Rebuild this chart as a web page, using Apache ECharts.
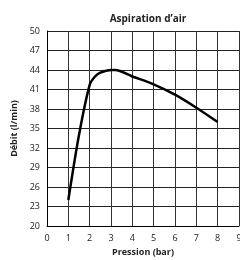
<!DOCTYPE html>
<html>
<head>
<meta charset="utf-8">
<script src="https://cdn.jsdelivr.net/npm/echarts@6/dist/echarts.min.js"></script>
<style>
  html, body { margin: 0; padding: 0; background: #fff; }
  #main { width: 240px; height: 260px; }
</style>
</head>
<body>
<div id="main"></div>
<script>
var pression = [1, 1.5, 2, 2.25, 2.5, 3, 3.2, 4, 5, 6, 7, 8];
var debit = [24, 34, 41.7, 43, 43.6, 44, 44, 43, 41.8, 40.2, 38.2, 36];
var xTicks = [0, 1, 2, 3, 4, 5, 6, 7, 8, 9];
var yTicks = [20, 23, 26, 29, 32, 35, 38, 41, 44, 47, 50];

var font = 'Open Sans';
var points = pression.map(function (p, i) { return [p, debit[i]]; });

var myChart = echarts.init(document.getElementById('main'));
myChart.setOption({
  animation: false,
  title: {
    text: 'Aspiration d\u2019air',
    left: 143, top: 9, textAlign: 'center',
    textStyle: { fontFamily: font, fontSize: 10, fontWeight: 'bold', color: '#222' }
  },
  grid: { left: 47, right: 1, top: 31, bottom: 34, outerBoundsMode: 'none' },
  xAxis: {
    type: 'value', min: 0, max: 9, interval: 1,
    name: 'Pression (bar)', nameLocation: 'middle', nameGap: 19,
    nameTextStyle: { fontFamily: font, fontSize: 9, fontWeight: 'bold', color: '#222' },
    axisLine: { show: true, lineStyle: { color: '#000', width: 1 } },
    axisTick: { show: false },
    axisLabel: { fontFamily: font, fontSize: 9, color: '#222', margin: 8,
      formatter: function (v) { return xTicks.indexOf(v) >= 0 ? String(v) : ''; } },
    splitLine: { show: true, lineStyle: { color: '#333', width: 1 } }
  },
  yAxis: {
    type: 'value', min: 20, max: 50, interval: 3,
    name: 'D\u00e9bit (l/min)', nameLocation: 'middle', nameGap: 28,
    nameTextStyle: { fontFamily: font, fontSize: 9, fontWeight: 'bold', color: '#222' },
    axisLine: { show: true, lineStyle: { color: '#000', width: 1 } },
    axisTick: { show: false },
    axisLabel: { fontFamily: font, fontSize: 9, color: '#222', margin: 7,
      formatter: function (v) { return yTicks.indexOf(v) >= 0 ? String(v) : ''; } },
    splitLine: { show: true, lineStyle: { color: '#222', width: 1 } }
  },
  series: [{
    type: 'line',
    data: points,
    smooth: 0.3,
    showSymbol: false,
    lineStyle: { color: '#000', width: 2.5 }
  }]
});
</script>
</body>
</html>
